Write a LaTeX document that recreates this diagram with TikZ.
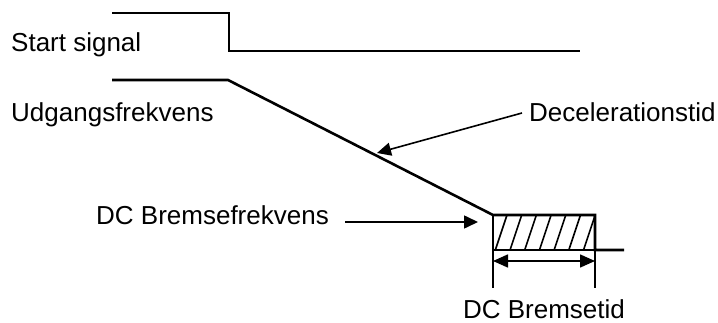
\documentclass[tikz,border=0pt]{standalone}
\usepackage{fontspec}
\setmainfont{Liberation Sans}
\usetikzlibrary{arrows.meta}
\begin{document}
\begin{tikzpicture}[x=1pt,y=-1pt,
  lbl/.style={inner sep=0pt,font=\fontsize{26}{30}\selectfont},
  wave/.style={line width=2.6pt},
  thin/.style={line width=1.6pt},
  pointer/.style={line width=1.6pt,-{Triangle[length=14pt,width=13pt]}},
  dbl/.style={line width=1.6pt,{Triangle[length=15pt,width=13pt]}-{Triangle[length=15pt,width=13pt]}}]
\useasboundingbox (0,0) rectangle (718,323);
% labels
\node[lbl,anchor=base west] (ss) at (11,52) {Start signal};
\node[lbl,anchor=base west] (uf) at (11,122) {Udgangsfrekvens};
\node[lbl,anchor=base west] (dt) at (529,122) {Decelerationstid};
\node[lbl,anchor=base west] (bf) at (96,225) {DC Bremsefrekvens};
\node[lbl,anchor=base] (bt) at (544,319) {DC Bremsetid};
% coordinates
\coordinate (s0) at (112,13);
\coordinate (s1) at (229,13);
\coordinate (s2) at (229,51);
\coordinate (s3) at (580,51);
\coordinate (u0) at (112,80);
\coordinate (u1) at (228,80);
\coordinate (bTL) at (493,215);
\coordinate (bTR) at (595,215);
\coordinate (bBL) at (493,250);
\coordinate (bBR) at (595,250);
\coordinate (oe) at (624,250);
\coordinate (eL) at (493,288);
\coordinate (eR) at (595,288);
\coordinate (aL) at (493,261);
\coordinate (aR) at (595,261);
\coordinate (dtail) at (522,113);
\coordinate (dtip) at (377,153);
\coordinate (ftail) at (345,222);
\coordinate (ftip) at (478,222);
% start signal
\draw[wave] (s0) -- (s1) -- (s2) -- (s3);
% output frequency
\draw[wave] (u0) -- (u1) -- (bTL) -- (bTR) -- (bBR) -- (oe);
\draw[wave] (bTL) -- (bBL) -- (bBR);
% hatching
\begin{scope}
\clip (bTL) rectangle (bBR);
\foreach \i in {0,...,6}
  \draw[thin] ({495+14.7*\i},251) -- ({507+14.7*\i},215);
\end{scope}
% extension lines
\draw[thin] (bBL) -- (eL);
\draw[thin] (bBR) -- (eR);
\draw[dbl] (aL) -- (aR);
% pointers
\draw[pointer] (dtail) -- (dtip);
\draw[pointer] (ftail) -- (ftip);
\end{tikzpicture}
\end{document}
